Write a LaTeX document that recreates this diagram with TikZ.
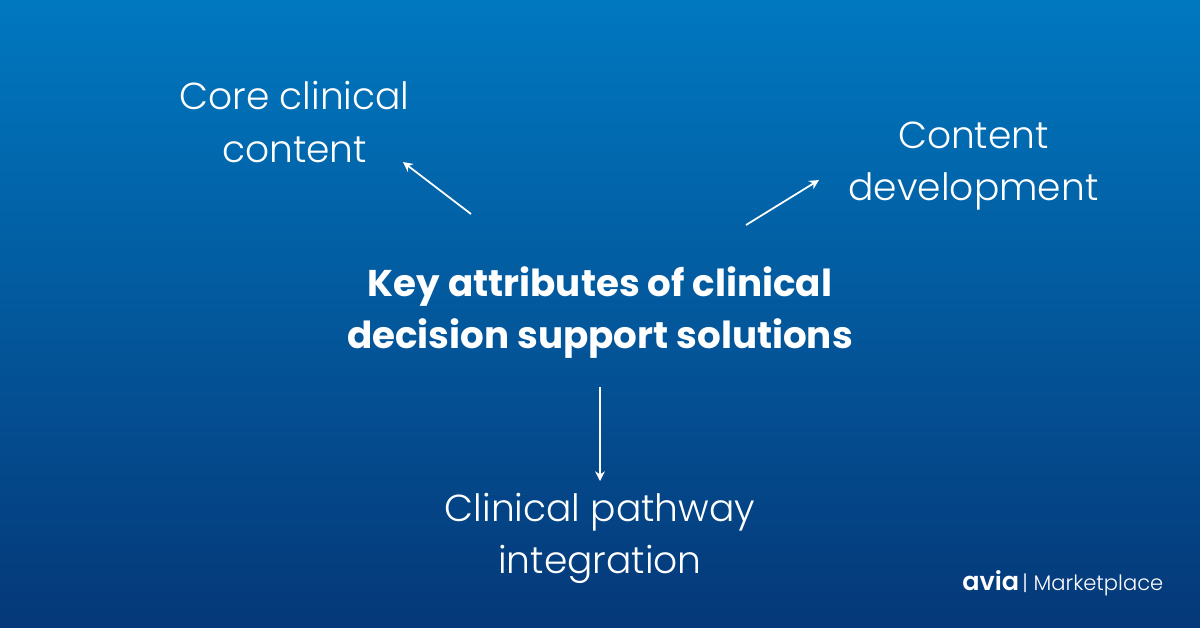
\documentclass[tikz,border=0pt]{standalone}
\usepackage{fontspec}
\setmainfont{Poppins}
\newfontfamily\lightf{Poppins Light}
\newfontfamily\semif{Poppins SemiBold}
\usetikzlibrary{arrows.meta}
\definecolor{bgtop}{RGB}{0,120,192}
\definecolor{bgmid}{RGB}{3,88,156}
\definecolor{bgbot}{RGB}{5,56,120}
\tikzset{
  x=0.02cm,y=-0.02cm,
  attr/.style={text=white,align=center,font=\lightf\fontsize{21.4}{29.6}\selectfont,inner sep=0pt},
  title/.style={text=white,align=center,font=\bfseries\fontsize{21.2}{29.6}\selectfont,inner sep=0pt},
  conn/.style={draw=white,line width=1pt,-{Stealth[length=5.5pt,width=5.5pt]}}
}
\begin{document}
\begin{tikzpicture}
\useasboundingbox (0,0) rectangle (1200,627);
\shade[top color=bgtop,bottom color=bgbot,middle color=bgmid] (0,0) rectangle (1200,627);
\node[title] (center) at (600,313) {Key attributes of clinical\\decision support solutions};
\node[attr] (core) at (294.5,122) {Core clinical\\content};
\node[attr] (dev) at (973.5,166) {Content\\development};
\node[attr] (path) at (600,538) {Clinical pathway\\integration};
\node[text=white,inner sep=0pt,anchor=base west,font=\semif\fontsize{14.5}{16}\selectfont] (logo) at (962,590) {avia};
\node[text=white,inner sep=0pt,anchor=base west,font=\lightf\fontsize{12}{14}\selectfont] (market) at (1022,590) {| Marketplace};
\coordinate (a1) at (471,214); \coordinate (a2) at (403,162);
\coordinate (b1) at (746,225); \coordinate (b2) at (819,180);
\coordinate (c1) at (600,387); \coordinate (c2) at (600,481);
\draw[conn] (a1) -- (a2);
\draw[conn] (b1) -- (b2);
\draw[conn] (c1) -- (c2);
\end{tikzpicture}
\end{document}
